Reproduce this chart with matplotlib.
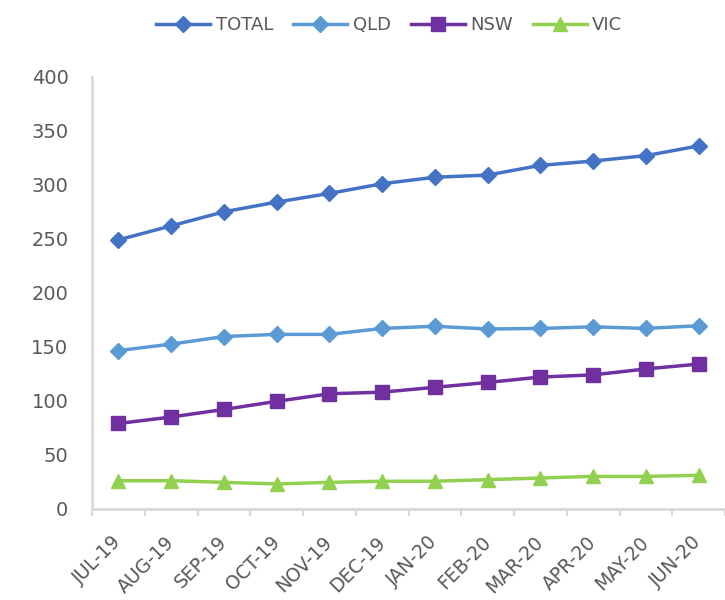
import matplotlib
matplotlib.use('Agg')
import matplotlib.pyplot as plt
import numpy as np

months = ['JUL-19', 'AUG-19', 'SEP-19', 'OCT-19', 'NOV-19', 'DEC-19',
          'JAN-20', 'FEB-20', 'MAR-20', 'APR-20', 'MAY-20', 'JUN-20']
total = [249, 262, 275, 284, 292, 301, 307, 309, 318, 322, 327, 336]
qld = [146.5, 152.5, 159.5, 161.5, 161.5, 167, 169, 166.5, 167, 168.5, 167, 169.5]
nsw = [79, 85, 92, 99.5, 106.5, 108, 112.5, 117, 122, 124, 129.5, 134]
vic = [26, 26, 24.5, 23, 24.5, 25.5, 25.5, 27, 28.5, 30, 30, 31]

text_col = '#595959'
axis_col = '#d9d9d9'

fig = plt.figure(figsize=(7.25, 6), dpi=100)
ax = fig.add_axes([0.127, 0.152, 0.873, 0.72])

x = np.arange(len(months))
ax.plot(x, total, color='#4472C4', lw=2.5, marker='D', ms=8, label='TOTAL')
ax.plot(x, qld, color='#5B9BD5', lw=2.5, marker='D', ms=8, label='QLD')
ax.plot(x, nsw, color='#7030A0', lw=2.5, marker='s', ms=10, label='NSW')
ax.plot(x, vic, color='#92D050', lw=2.5, marker='^', ms=10, label='VIC')

ax.set_xlim(-0.5, len(months) - 0.5)
ax.set_ylim(0, 400)
ax.set_yticks(range(0, 401, 50))

# category labels in the middle, tick marks on the boundaries
ax.set_xticks(x)
ax.set_xticklabels(months, rotation=45, ha='right', va='center',
                   rotation_mode='anchor', fontsize=13.5, color=text_col)
ax.set_xticks(np.arange(-0.5, len(months), 1), minor=True)
ax.tick_params(axis='x', which='major', length=0, pad=22)
ax.tick_params(axis='x', which='minor', length=5, color=axis_col, width=1.5)
ax.tick_params(axis='y', length=0, pad=17, labelsize=14, labelcolor=text_col)

for s in ['top', 'right']:
    ax.spines[s].set_visible(False)
for s in ['left', 'bottom']:
    ax.spines[s].set_color(axis_col)
    ax.spines[s].set_linewidth(2)

fig.legend(loc='upper center', bbox_to_anchor=(0.537, 1.0), ncol=4, frameon=False,
           fontsize=13, handlelength=3.0, handletextpad=0.3, columnspacing=1.1,
           labelcolor=text_col)

fig.savefig('out.png', dpi=100)
